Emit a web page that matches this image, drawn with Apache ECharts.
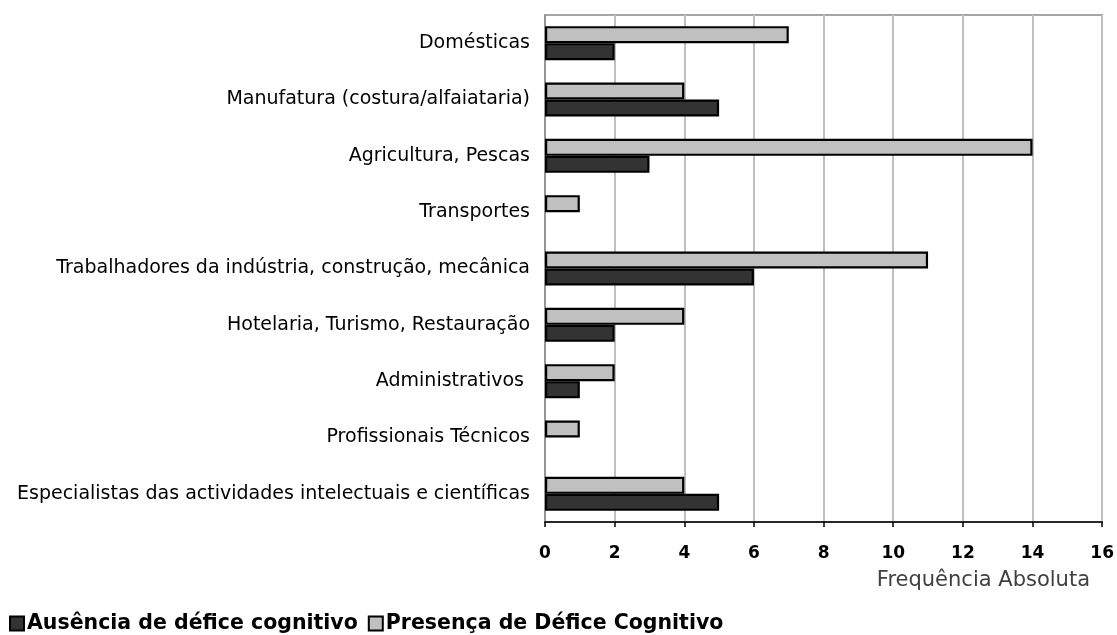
<!DOCTYPE html>
<html>
<head>
<meta charset="utf-8">
<script src="https://cdn.jsdelivr.net/npm/echarts@6/dist/echarts.min.js"></script>
<style>html,body{margin:0;padding:0;background:#fff}#c{width:1117px;height:635px}</style>
</head>
<body>
<div id="c"></div>
<script>
const categories = [
  "Domésticas",
  "Manufatura (costura/alfaiataria)",
  "Agricultura, Pescas",
  "Transportes",
  "Trabalhadores da indústria, construção, mecânica",
  "Hotelaria, Turismo, Restauração",
  "Administrativos ",
  "Profissionais Técnicos",
  "Especialistas das actividades intelectuais e científicas"
];
const presenca = [7, 4, 14, 1, 11, 4, 2, 1, 4];
const ausencia = [2, 5, 3, 0, 6, 2, 1, 0, 5];
const xTicks = [0, 2, 4, 6, 8, 10, 12, 14, 16];

const FONT = "DejaVu Sans";
function toItems(arr) {
  return arr.map(v => v === 0 ? { value: v, itemStyle: { borderWidth: 0 } } : v);
}
const chart = echarts.init(document.getElementById('c'));
chart.setOption({
  animation: false,
  textStyle: { fontFamily: FONT },
  grid: { left: 545, top: 15, right: 14, bottom: 113, show: true, borderColor: '#888', borderWidth: 1.5, containLabel: false },
  legend: {
    data: ['Ausência de défice cognitivo', 'Presença de Défice Cognitivo'],
    left: 4, top: 608,
    itemWidth: 14, itemHeight: 14, itemGap: 10,
    icon: 'rect',
    textStyle: { fontFamily: FONT, fontWeight: 'bold', fontSize: 20.5, color: '#000', padding: [0,0,0,-2] }
  },
  xAxis: {
    type: 'value', min: xTicks[0], max: xTicks[xTicks.length-1], interval: 2,
    axisLine: { show: true, lineStyle: { color: '#000', width: 1.5 } },
    axisTick: { show: true, length: 5, lineStyle: { color: '#000', width: 1.5 } },
    axisLabel: { fontFamily: FONT, fontWeight: 'bold', fontSize: 17, color: '#000', margin: 23 },
    splitLine: { show: true, lineStyle: { color: '#c0c0c0', width: 2 } }
  },
  yAxis: {
    type: 'category', data: categories, inverse: true,
    axisLine: { show: true, lineStyle: { color: '#888', width: 1.5 } },
    axisTick: { show: false },
    axisLabel: { fontFamily: FONT, fontSize: 19, color: '#000', margin: 15 }
  },
  graphic: [{
    type: 'text', right: 27, top: 570,
    style: { text: 'Frequência Absoluta', fontFamily: FONT, fontSize: 21, fill: '#404040' }
  }],
  series: [
    {
      name: 'Presença de Défice Cognitivo', type: 'bar', data: toItems(presenca),
      barWidth: 17, barGap: '0%',
      itemStyle: { color: '#c0c0c0', borderColor: '#000', borderWidth: 2.2 }
    },
    {
      name: 'Ausência de défice cognitivo', type: 'bar', data: toItems(ausencia),
      barWidth: 17, barGap: '0%',
      itemStyle: { color: '#333333', borderColor: '#000', borderWidth: 2.2 }
    }
  ]
});
</script>
</body>
</html>
